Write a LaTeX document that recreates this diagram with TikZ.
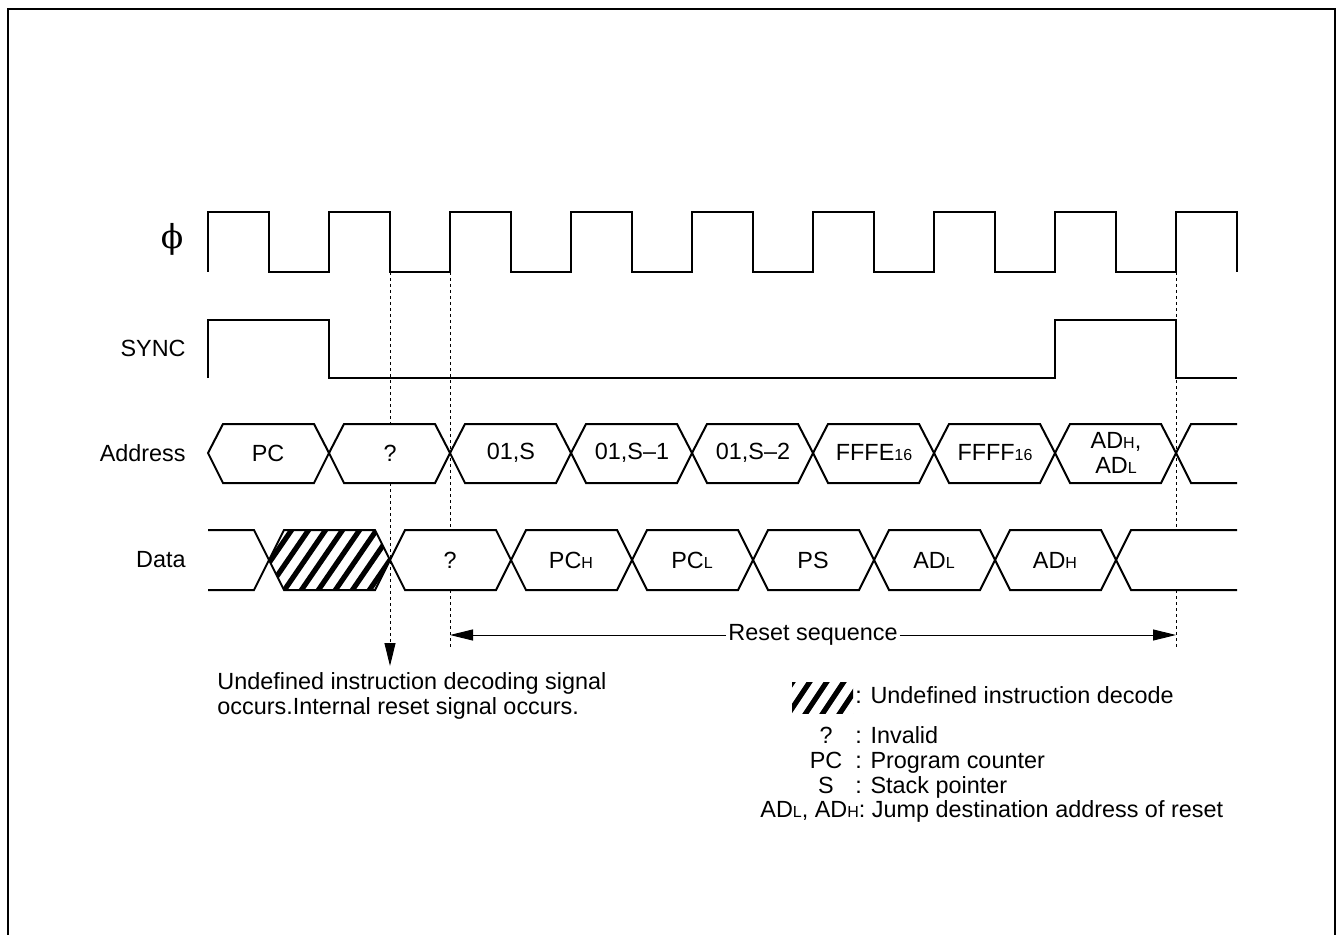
\documentclass[tikz,border=0pt]{standalone}
\usepackage{fontspec}
\setmainfont{Liberation Sans}
\newfontfamily\phifont{DejaVu Serif}
\usetikzlibrary{arrows.meta}
\newcommand{\lsub}[1]{{\fontsize{8}{9}\selectfont #1}}

\begin{document}
\begin{tikzpicture}[x=0.5pt,y=-0.5pt,
    wave/.style={line width=1pt, line join=miter},
    guide/.style={line width=0.5pt, dash pattern=on 1.5pt off 1.5pt},
    lbl/.style={font=\fontsize{11.7}{12.5}\selectfont, inner sep=0pt},
    stripe/.style={line width=2.6pt},
    tip/.style={-{Triangle[length=11.5pt,width=5.5pt]}}]
  \useasboundingbox (0,0) rectangle (1337,935);

  % Frame, open at the bottom
  \draw[line width=1.1pt] (8,935) -- (8,9) -- (1335,9) -- (1335,935);

  % Signal names
  \node[lbl] (phi) at (172,239) {\phifont\fontsize{16.5}{16.5}\selectfont\char"03D5};
  \node[lbl, anchor=east] (sync) at (186,348) {SYNC};
  \node[lbl, anchor=east] (addr) at (186,453) {Address};
  \node[lbl, anchor=east] (data) at (186,560) {Data};

  % Clock
  \draw[wave] (208,272) \foreach \k in {0,...,7} {
      -- ++(0,-60) -- ++(60.5,0) -- ++(0,60) -- ++(60.5,0) }
    -- ++(0,-60) -- ++(61,0) -- ++(0,60);

  % SYNC
  \draw[wave] (208,378) -- (208,320) -- (329,320) -- (329,378)
    -- (1055,378) -- (1055,320) -- (1176,320) -- (1176,378) -- (1237,378);

  % Address bus
  \foreach \a in {208,329,...,1055}
    \draw[wave] (\a,453) -- (\a+15,424) -- (\a+106,424) -- (\a+121,453)
      -- (\a+106,483) -- (\a+15,483) -- cycle;
  \draw[wave] (1237,424) -- (1191,424) -- (1176,453) -- (1191,483) -- (1237,483);

  \node[lbl] (apc)  at (268,453) {PC};
  \node[lbl] (aq)   at (390,453) {?};
  \node[lbl] (as0)  at (511,453) {01,S};
  \node[lbl] (as1)  at (632,453) {01,S–1};
  \node[lbl] (as2)  at (753,453) {01,S–2};
  \node[lbl] (afe)  at (874,453) {FFFE\lsub{16}};
  \node[lbl] (aff)  at (995,453) {FFFF\lsub{16}};
  \node[lbl, align=center] (aad) at (1116,453) {AD\lsub{H},\\AD\lsub{L}};

  % Data bus
  \begin{scope}
    \clip (269,560) -- (284,530) -- (375,530) -- (390,560) -- (375,590) -- (284,590) -- cycle;
    \foreach \i in {0,...,9}
      \draw[stripe] (230+17*\i,595) -- ++(48,-70);
  \end{scope}
  \draw[wave] (208,530) -- (254,530) -- (269,560) -- (254,590) -- (208,590);
  \foreach \a in {269,390,...,995}
    \draw[wave] (\a,560) -- (\a+15,530) -- (\a+106,530) -- (\a+121,560)
      -- (\a+106,590) -- (\a+15,590) -- cycle;
  \draw[wave] (1237,530) -- (1131,530) -- (1116,560) -- (1131,590) -- (1237,590);

  \node[lbl] (dq)   at (450,560) {?};
  \node[lbl] (dpch) at (571,560) {PC\lsub{H}};
  \node[lbl] (dpcl) at (692,560) {PC\lsub{L}};
  \node[lbl] (dps)  at (813,560) {PS};
  \node[lbl] (dadl) at (934,560) {AD\lsub{L}};
  \node[lbl] (dadh) at (1055,560) {AD\lsub{H}};

  % Guide lines, broken inside the bus boxes
  \coordinate (dectop) at (390,272);
  \coordinate (decbot) at (390,666);
  \coordinate (rsttop) at (450,272);
  \coordinate (rstbot) at (450,650);
  \coordinate (endtop) at (1176,272);
  \coordinate (endbot) at (1176,650);
  \draw[guide] (dectop) -- (390,424);
  \draw[guide, tip] (390,483) -- (decbot);
  \draw[guide] (rsttop) -- (450,530) (450,590) -- (rstbot);
  \draw[guide] (endtop) -- (1176,530) (1176,590) -- (endbot);

  % Reset sequence
  \coordinate (rstL) at (450,635);
  \coordinate (rstR) at (1176,635);
  \node[lbl, inner xsep=1pt] (rst) at (813,635) {Reset sequence};
  \draw[line width=0.5pt, tip] (rst.west) -- (rstL);
  \draw[line width=0.5pt, tip] (rst.east) -- (rstR);

  % Note
  \node[lbl, anchor=base west] (note1) at (217,689) {Undefined instruction decoding signal};
  \node[lbl, anchor=base west] (note2) at (217,714) {occurs.Internal reset signal occurs.};

  % Legend
  \begin{scope}
    \clip (792,682) rectangle (853,713);
    \foreach \i in {0,...,5}
      \draw[stripe] (770+17*\i,716) -- ++(24,-36);
  \end{scope}
  \node[lbl, anchor=base west] (k1) at (855,703) {: Undefined instruction decode};
  \node[lbl, anchor=base] (q)  at (826,743) {?};
  \node[lbl, anchor=base west] (k2) at (855,743) {: Invalid};
  \node[lbl, anchor=base] (pc) at (826,768) {PC};
  \node[lbl, anchor=base west] (k3) at (855,768) {: Program counter};
  \node[lbl, anchor=base] (s)  at (826,793) {S};
  \node[lbl, anchor=base west] (k4) at (855,793) {: Stack pointer};
  \node[lbl, anchor=base west] (k5) at (760,817) {AD\lsub{L}, AD\lsub{H}: Jump destination address of reset};

\end{tikzpicture}
\end{document}
